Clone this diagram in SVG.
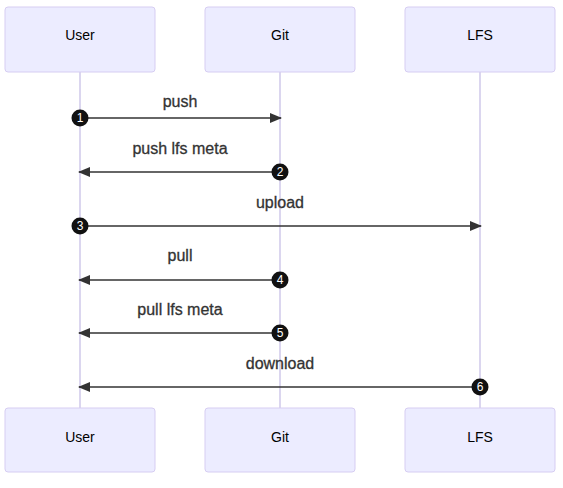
<svg xmlns="http://www.w3.org/2000/svg" width="563" height="488" viewBox="0 0 563 488">
<style>
.actor{fill:#ECECFF;stroke:#d6cdf2;stroke-width:1}
.atext{font-family:"Liberation Sans",Arial,sans-serif;font-size:14px;fill:#000;text-anchor:middle;dominant-baseline:central}
.life{stroke:#cfc8ea;stroke-width:1.5}
.msg{stroke:#333;stroke-width:1.5;fill:none}
.mtext{font-family:"Liberation Sans",Arial,sans-serif;font-size:16px;fill:#333;text-anchor:middle;stroke:#333;stroke-width:0.3}
.num{fill:#111}
.ntext{font-family:"Liberation Sans",Arial,sans-serif;font-size:12px;fill:#fff;text-anchor:middle;dominant-baseline:central}
</style>
<defs>
<marker id="arrow" viewBox="0 0 12 10" refX="11" refY="5" markerWidth="12" markerHeight="10" markerUnits="userSpaceOnUse" orient="auto">
<path d="M0,0 L12,5 L0,10 z" fill="#333"/>
</marker>
</defs>
<g id="lifelines">
<line class="life" x1="80" y1="72" x2="80" y2="408"/>
<line class="life" x1="280" y1="72" x2="280" y2="408"/>
<line class="life" x1="480" y1="72" x2="480" y2="408"/>
</g>
<g id="actor-user-top"><rect class="actor" x="5" y="7" width="150" height="65" rx="3"/><text class="atext" x="80" y="35">User</text></g>
<g id="actor-git-top"><rect class="actor" x="205" y="7" width="150" height="65" rx="3"/><text class="atext" x="280" y="35">Git</text></g>
<g id="actor-lfs-top"><rect class="actor" x="405" y="7" width="150" height="65" rx="3"/><text class="atext" x="480" y="35">LFS</text></g>
<g id="actor-user-bottom"><rect class="actor" x="5" y="408" width="150" height="64" rx="3"/><text class="atext" x="80" y="437">User</text></g>
<g id="actor-git-bottom"><rect class="actor" x="205" y="408" width="150" height="64" rx="3"/><text class="atext" x="280" y="437">Git</text></g>
<g id="actor-lfs-bottom"><rect class="actor" x="405" y="408" width="150" height="64" rx="3"/><text class="atext" x="480" y="437">LFS</text></g>
<g id="connectors">
<line class="msg" x1="80" y1="118" x2="281" y2="118" marker-end="url(#arrow)"/>
<line class="msg" x1="280" y1="172" x2="79" y2="172" marker-end="url(#arrow)"/>
<line class="msg" x1="80" y1="226" x2="481" y2="226" marker-end="url(#arrow)"/>
<line class="msg" x1="280" y1="280" x2="79" y2="280" marker-end="url(#arrow)"/>
<line class="msg" x1="280" y1="333" x2="79" y2="333" marker-end="url(#arrow)"/>
<line class="msg" x1="480" y1="387" x2="79" y2="387" marker-end="url(#arrow)"/>
<text class="mtext" x="180" y="107">push</text>
<text class="mtext" x="180" y="154">push lfs meta</text>
<text class="mtext" x="280" y="208">upload</text>
<text class="mtext" x="180" y="261">pull</text>
<text class="mtext" x="180" y="315">pull lfs meta</text>
<text class="mtext" x="280" y="369">download</text>
</g>
<g id="seq-numbers">
<circle class="num" cx="80" cy="118" r="8.5"/><text class="ntext" x="80" y="118">1</text>
<circle class="num" cx="280" cy="172" r="8.5"/><text class="ntext" x="280" y="172">2</text>
<circle class="num" cx="80" cy="226" r="8.5"/><text class="ntext" x="80" y="226">3</text>
<circle class="num" cx="280" cy="280" r="8.5"/><text class="ntext" x="280" y="280">4</text>
<circle class="num" cx="280" cy="333" r="8.5"/><text class="ntext" x="280" y="333">5</text>
<circle class="num" cx="480" cy="387" r="8.5"/><text class="ntext" x="480" y="387">6</text>
</g>
</svg>
